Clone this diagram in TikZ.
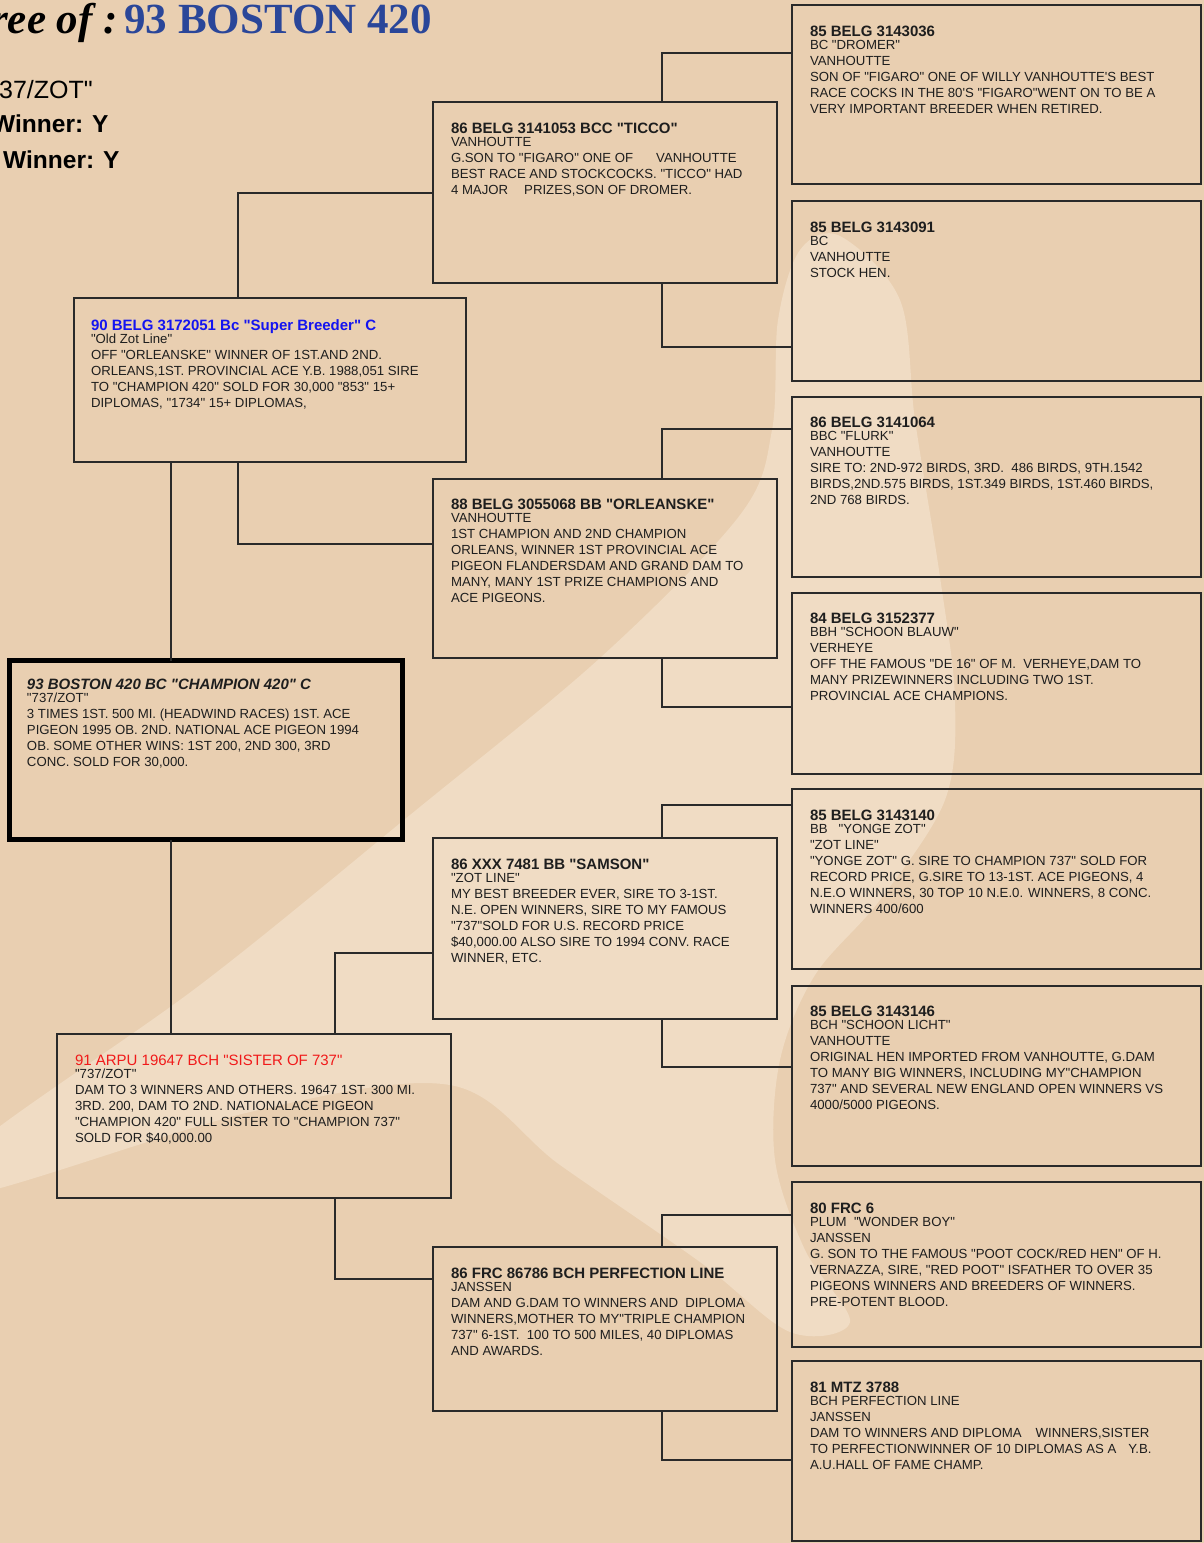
\documentclass[tikz,border=0pt]{standalone}
\usepackage{fontspec}
\setmainfont{Liberation Sans}[Ligatures=TeXOff]
\newfontfamily\titleserif{Liberation Serif}[Ligatures=TeXOff]
\definecolor{bg}{HTML}{E9CFB1}
\definecolor{wm}{HTML}{F0DCC4}
\definecolor{ln}{HTML}{2A2A2A}
\definecolor{tx}{HTML}{1E1E1E}
\definecolor{titleblue}{HTML}{2A4699}
\definecolor{sireblue}{HTML}{1414F0}
\definecolor{damred}{HTML}{F01A1A}
\newcommand{\ped}[2]{\parbox[t]{400pt}{\raggedright{\fontsize{15}{15}\selectfont\leavevmode #1\par}\vspace{-2.5pt}#2}}
\tikzset{
  pbox/.style={draw=ln, line width=1.2pt, rectangle, inner sep=0pt, outer sep=0pt, anchor=north west},
  conn/.style={draw=ln, line width=1.2pt},
  ptxt/.style={anchor=base west, inner sep=0pt, outer sep=0pt, text=tx, font=\fontsize{13.2}{16}\selectfont},
  head/.style={anchor=base west, inner sep=0pt, text=black},
}
\begin{document}
\begin{tikzpicture}[x=1pt,y=-1pt]
\useasboundingbox (0,0) rectangle (1204,1543);
\clip (0,0) rectangle (1204,1543);
\fill[bg] (0,0) rectangle (1204,1543);
% watermark
\fill[wm] plot[smooth cycle, tension=0.55] coordinates {(-30,1150) (200,985) (410,815) (600,658) (740,515) (772,430) (778,320) (800,250) (840,236) (900,300) (915,420) (940,577) (955,700) (945,800) (880,900) (815,975) (780,1060) (775,1160) (805,1250) (850,1322) (790,1332) (700,1262) (560,1165) (450,1085) (250,1112) (-30,1195)};

% heading
\node[head, font=\titleserif\fontsize{43}{43}\selectfont\bfseries\itshape] (pre) at (-9,33) {ree of :};
\node[anchor=base east, inner sep=0pt, text=titleblue, font=\titleserif\fontsize{43}{43}\selectfont\bfseries] (title) at (432,33) {93 BOSTON 420};
\node[head, font=\fontsize{25}{25}\selectfont] (colour) at (-1,98) {37/ZOT"};
\node[head, font=\fontsize{24.5}{25}\selectfont\bfseries] (win1) at (-8,132) {Winner: Y};
\node[head, font=\fontsize{24.5}{25}\selectfont\bfseries] (win2) at (3,168) {Winner: Y};

% boxes: generation 4
\node[pbox, minimum width=409pt, minimum height=179pt] (g1) at (792,5) {};
\node[pbox, minimum width=409pt, minimum height=180pt] (g2) at (792,201) {};
\node[pbox, minimum width=409pt, minimum height=180pt] (g3) at (792,397) {};
\node[pbox, minimum width=409pt, minimum height=181pt] (g4) at (792,593) {};
\node[pbox, minimum width=409pt, minimum height=180pt] (g5) at (792,789) {};
\node[pbox, minimum width=409pt, minimum height=180pt] (g6) at (792,986) {};
\node[pbox, minimum width=409pt, minimum height=165pt] (g7) at (792,1182) {};
\node[pbox, minimum width=409pt, minimum height=180pt] (g8) at (792,1361) {};
% generation 3
\node[pbox, minimum width=344pt, minimum height=181pt] (t1) at (433,102) {};
\node[pbox, minimum width=344pt, minimum height=179pt] (t2) at (433,479) {};
\node[pbox, minimum width=344pt, minimum height=181pt] (t3) at (433,838) {};
\node[pbox, minimum width=344pt, minimum height=164pt] (t4) at (433,1247) {};
% generation 2
\node[pbox, minimum width=392pt, minimum height=164pt] (sire) at (74,298) {};
\node[pbox, minimum width=394pt, minimum height=164pt] (dam) at (57,1034) {};
% generation 1
\node[pbox, draw=black, line width=4.5pt, minimum width=393pt, minimum height=179pt] (boston) at (9.5,660.5) {};

% junction points
\coordinate (k1) at (662,53);
\coordinate (k2) at (662,347);
\coordinate (k3) at (662,429);
\coordinate (k4) at (662,707);
\coordinate (k5) at (662,805);
\coordinate (k6) at (662,1067);
\coordinate (k7) at (662,1215);
\coordinate (k8) at (662,1460);
\coordinate (s1) at (238,193);
\coordinate (s2) at (238,544);
\coordinate (d1) at (335,953);
\coordinate (d2) at (335,1279);
\coordinate (bx) at (171,0);

% connectors
\draw[conn] (t1.north -| k1) -- (k1) -- (g1.west |- k1);
\draw[conn] (t1.south -| k2) -- (k2) -- (g2.west |- k2);
\draw[conn] (t2.north -| k3) -- (k3) -- (g3.west |- k3);
\draw[conn] (t2.south -| k4) -- (k4) -- (g4.west |- k4);
\draw[conn] (t3.north -| k5) -- (k5) -- (g5.west |- k5);
\draw[conn] (t3.south -| k6) -- (k6) -- (g6.west |- k6);
\draw[conn] (t4.north -| k7) -- (k7) -- (g7.west |- k7);
\draw[conn] (t4.south -| k8) -- (k8) -- (g8.west |- k8);
\draw[conn] (sire.north -| s1) -- (s1) -- (t1.west |- s1);
\draw[conn] (sire.south -| s2) -- (s2) -- (t2.west |- s2);
\draw[conn] (dam.north -| d1) -- (d1) -- (t3.west |- d1);
\draw[conn] (dam.south -| d2) -- (d2) -- (t4.west |- d2);
\draw[conn] (sire.south -| bx) -- (boston.north -| bx);
\draw[conn] (boston.south -| bx) -- (dam.north -| bx);

% texts generation 4
\node[ptxt] (g1t) at (810,36) {\ped{\bfseries 85 BELG 3143036}{BC "DROMER"\\VANHOUTTE\\SON OF "FIGARO" ONE OF WILLY VANHOUTTE'S BEST\\RACE COCKS IN THE 80'S "FIGARO"WENT ON TO BE A\\VERY IMPORTANT BREEDER WHEN RETIRED.}};
\node[ptxt] (g2t) at (810,232) {\ped{\bfseries 85 BELG 3143091}{BC\\VANHOUTTE\\STOCK HEN.}};
\node[ptxt] (g3t) at (810,427) {\ped{\bfseries 86 BELG 3141064}{BBC "FLURK"\\VANHOUTTE\\SIRE TO: 2ND-972 BIRDS, 3RD.\ \ 486 BIRDS, 9TH.1542\\BIRDS,2ND.575 BIRDS, 1ST.349 BIRDS, 1ST.460 BIRDS,\\2ND 768 BIRDS.}};
\node[ptxt] (g4t) at (810,623) {\ped{\bfseries 84 BELG 3152377}{BBH "SCHOON BLAUW"\\VERHEYE\\OFF THE FAMOUS "DE 16" OF M.\ \ VERHEYE,DAM TO\\MANY PRIZEWINNERS INCLUDING TWO 1ST.\\PROVINCIAL ACE CHAMPIONS.}};
\node[ptxt] (g5t) at (810,820) {\ped{\bfseries 85 BELG 3143140}{BB\ \ \ "YONGE ZOT"\\"ZOT LINE"\\"YONGE ZOT" G. SIRE TO CHAMPION 737" SOLD FOR\\RECORD PRICE, G.SIRE TO 13-1ST. ACE PIGEONS, 4\\N.E.O WINNERS, 30 TOP 10 N.E.0. WINNERS, 8 CONC.\\WINNERS 400/600}};
\node[ptxt] (g6t) at (810,1016) {\ped{\bfseries 85 BELG 3143146}{BCH "SCHOON LICHT"\\VANHOUTTE\\ORIGINAL HEN IMPORTED FROM VANHOUTTE, G.DAM\\TO MANY BIG WINNERS, INCLUDING MY"CHAMPION\\737" AND SEVERAL NEW ENGLAND OPEN WINNERS VS\\4000/5000 PIGEONS.}};
\node[ptxt] (g7t) at (810,1213) {\ped{\bfseries 80 FRC 6}{PLUM\ \ "WONDER BOY"\\JANSSEN\\G. SON TO THE FAMOUS "POOT COCK/RED HEN" OF H.\\VERNAZZA, SIRE, "RED POOT" ISFATHER TO OVER 35\\PIGEONS WINNERS AND BREEDERS OF WINNERS.\\PRE-POTENT BLOOD.}};
\node[ptxt] (g8t) at (810,1392) {\ped{\bfseries 81 MTZ 3788}{BCH PERFECTION LINE\\JANSSEN\\DAM TO WINNERS AND DIPLOMA\hspace{14pt}WINNERS,SISTER\\TO PERFECTIONWINNER OF 10 DIPLOMAS AS A\hspace{12pt}Y.B.\\A.U.HALL OF FAME CHAMP.}};
% texts generation 3
\node[ptxt] (t1t) at (451,133) {\ped{\bfseries 86 BELG 3141053 BCC "TICCO"}{VANHOUTTE\\G.SON TO "FIGARO" ONE OF\hspace{23pt}VANHOUTTE\\BEST RACE AND STOCKCOCKS. "TICCO" HAD\\4 MAJOR\hspace{16pt}PRIZES,SON OF DROMER.}};
\node[ptxt] (t2t) at (451,509) {\ped{\bfseries 88 BELG 3055068 BB "ORLEANSKE"}{VANHOUTTE\\1ST CHAMPION AND 2ND CHAMPION\\ORLEANS, WINNER 1ST PROVINCIAL ACE\\PIGEON FLANDERSDAM AND GRAND DAM TO\\MANY, MANY 1ST PRIZE CHAMPIONS AND\\ACE PIGEONS.}};
\node[ptxt] (t3t) at (451,869) {\ped{\bfseries 86 XXX 7481 BB "SAMSON"}{"ZOT LINE"\\MY BEST BREEDER EVER, SIRE TO 3-1ST.\\N.E. OPEN WINNERS, SIRE TO MY FAMOUS\\"737"SOLD FOR U.S. RECORD PRICE\\\$40,000.00 ALSO SIRE TO 1994 CONV. RACE\\WINNER, ETC.}};
\node[ptxt] (t4t) at (451,1278) {\ped{\bfseries 86 FRC 86786 BCH PERFECTION LINE}{JANSSEN\\DAM AND G.DAM TO WINNERS AND\ \ DIPLOMA\\WINNERS,MOTHER TO MY"TRIPLE CHAMPION\\737" 6-1ST.\ \ 100 TO 500 MILES, 40 DIPLOMAS\\AND AWARDS.}};
% texts generation 2
\node[ptxt] (siret) at (91,330) {\ped{\bfseries\color{sireblue}90 BELG 3172051 Bc "Super Breeder" C}{"Old Zot Line"\\OFF "ORLEANSKE" WINNER OF 1ST.AND 2ND.\\ORLEANS,1ST. PROVINCIAL ACE Y.B. 1988,051 SIRE\\TO "CHAMPION 420" SOLD FOR 30,000 "853" 15+\\DIPLOMAS, "1734" 15+ DIPLOMAS,}};
\node[ptxt] (damt) at (75,1065) {\ped{\color{damred}91 ARPU 19647 BCH "SISTER OF 737"}{"737/ZOT"\\DAM TO 3 WINNERS AND OTHERS. 19647 1ST. 300 MI.\\3RD. 200, DAM TO 2ND. NATIONALACE PIGEON\\"CHAMPION 420" FULL SISTER TO "CHAMPION 737"\\SOLD FOR \$40,000.00}};
% text generation 1
\node[ptxt] (bostont) at (27,689) {\ped{\bfseries\itshape 93 BOSTON 420 BC "CHAMPION 420" C}{"737/ZOT"\\3 TIMES 1ST. 500 MI. (HEADWIND RACES) 1ST. ACE\\PIGEON 1995 OB. 2ND. NATIONAL ACE PIGEON 1994\\OB. SOME OTHER WINS: 1ST 200, 2ND 300, 3RD\\CONC. SOLD FOR 30,000.}};
\end{tikzpicture}
\end{document}
